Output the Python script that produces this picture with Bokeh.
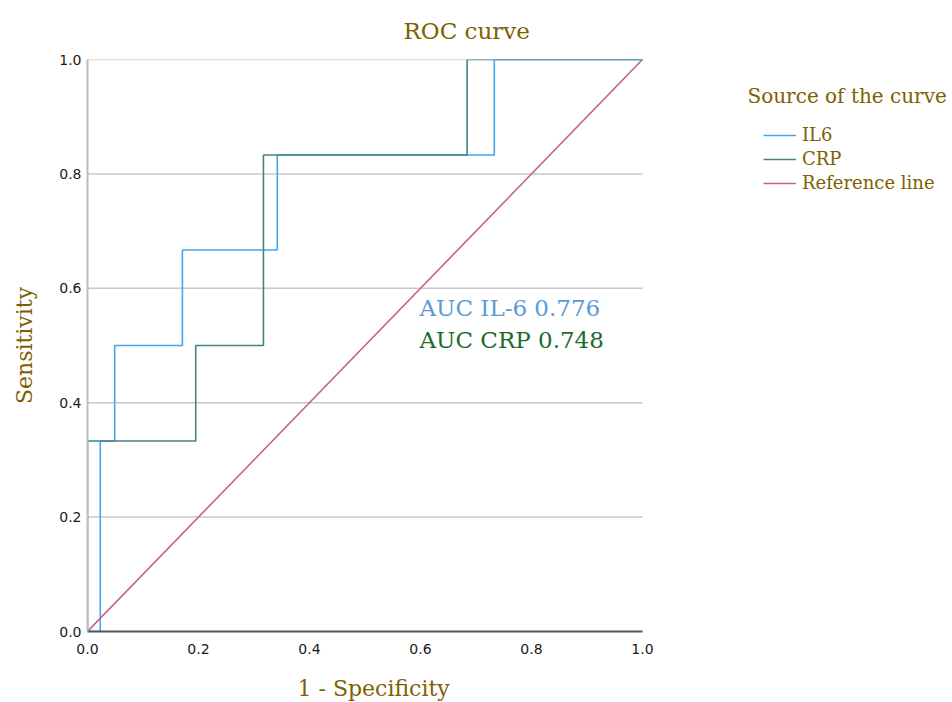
from bokeh.plotting import figure
from bokeh.models import Range1d, FixedTicker, Label, Legend, LegendItem, PrintfTickFormatter, Title
from bokeh.embed import file_html
from bokeh.resources import INLINE

# ROC curve coordinates (1 - specificity, sensitivity)
il6_fpr = [0.0, 0.023, 0.023, 0.049, 0.049, 0.171, 0.171, 0.342, 0.342, 0.733, 0.733, 1.0]
il6_tpr = [0.0, 0.0, 0.333, 0.333, 0.5, 0.5, 0.667, 0.667, 0.833, 0.833, 1.0, 1.0]
crp_fpr = [0.0, 0.0, 0.195, 0.195, 0.317, 0.317, 0.684, 0.684, 1.0]
crp_tpr = [0.0, 0.333, 0.333, 0.5, 0.5, 0.833, 0.833, 1.0, 1.0]
ref_x = [0.0, 1.0]
ref_y = [0.0, 1.0]
series_names = ["IL6", "CRP", "Reference line"]
tick_values = [0.0, 0.2, 0.4, 0.6, 0.8, 1.0]
auc_texts = ["AUC IL-6 0.776", "AUC CRP 0.748"]
auc_pos_x = [0.598, 0.598]
auc_pos_y = [0.565, 0.510]

BROWN = "#7F6000"
SERIF = "DejaVu Serif"
C_IL6 = "#45A5EA"
C_CRP = "#3E8787"
C_REF = "#C8608F"

# frame extends to the right to host the legend; x = 1.0 lands at 555 px
p = figure(frame_width=863, frame_height=572,
           min_border_left=87, min_border_right=0,
           min_border_top=59, min_border_bottom=71,
           x_range=Range1d(0, 863 / 555), y_range=Range1d(0, 1),
           output_backend="svg", toolbar_location=None,
           title="ROC curve")
p.background_fill_color = "white"
p.border_fill_color = "white"
p.outline_line_color = None

p.title.text_font = SERIF
p.title.text_font_size = "23px"
p.title.text_font_style = "normal"
p.title.text_color = BROWN
p.title.align = "left"
p.title.offset = 316
p.title.standoff = 31
p.title.text_line_height = 1.0

for ax in (p.xaxis[0], p.yaxis[0]):
    ax.ticker = FixedTicker(ticks=tick_values)
    ax.formatter = PrintfTickFormatter(format="%.1f")
    ax.major_tick_line_color = None
    ax.minor_tick_line_color = None
    ax.major_label_text_font = "DejaVu Sans"
    ax.major_label_text_font_size = "14px"
    ax.major_label_text_color = "#1A1A1A"
    ax.axis_label_text_font = SERIF
    ax.axis_label_text_font_size = "22px"
    ax.axis_label_text_font_style = "normal"
    ax.axis_label_text_color = BROWN

p.xaxis.bounds = (0, 1)
p.yaxis.bounds = (0, 1)
p.yaxis.axis_label = "Sensitivity"
p.xaxis.axis_line_color = "#555555"
p.xaxis.axis_line_width = 2
p.yaxis.axis_line_color = "#BDBDBD"
p.yaxis.axis_line_width = 2
p.xaxis.major_label_standoff = 6
p.yaxis.major_label_standoff = 0
p.yaxis.axis_label_standoff = 19

# x-axis caption, left-aligned under the 0..1 span
xcap = Title(text="1 - Specificity", align="left", offset=210, standoff=34,
             text_font=SERIF, text_font_size="22px", text_font_style="normal",
             text_color=BROWN, text_line_height=0.6)
p.add_layout(xcap, "below")

p.xgrid.grid_line_color = None
p.ygrid.grid_line_color = None
grid_y = tick_values[1:]
p.segment(x0=[0.0] * len(grid_y), y0=grid_y, x1=[1.0] * len(grid_y), y1=grid_y,
          line_color="#C8C8C8", line_width=1.5)

r_il6 = p.line(il6_fpr, il6_tpr, line_color=C_IL6, line_width=1.6)
r_crp = p.line(crp_fpr, crp_tpr, line_color=C_CRP, line_width=1.6)
r_ref = p.line(ref_x, ref_y, line_color=C_REF, line_width=1.6)

legend = Legend(items=[LegendItem(label=series_names[0], renderers=[r_il6]),
                       LegendItem(label=series_names[1], renderers=[r_crp]),
                       LegendItem(label=series_names[2], renderers=[r_ref])],
                location=(676, 438))
legend.padding = 0
legend.margin = 0
legend.spacing = 3
legend.glyph_width = 33
legend.glyph_height = 20
legend.label_height = 20
legend.label_standoff = 6
legend.label_text_font = SERIF
legend.label_text_font_size = "18px"
legend.label_text_color = BROWN
legend.background_fill_alpha = 0
legend.border_line_alpha = 0
p.add_layout(legend, "center")

p.add_layout(Label(x=660, y=536, x_units="screen", y_units="screen",
                   text="Source of the curve", text_font=SERIF,
                   text_font_size="20px", text_color=BROWN,
                   text_baseline="middle", text_align="left"))

auc_colors = ["#5B9BD5", "#1E6B2A"]
for t, xx, yy, c in zip(auc_texts, auc_pos_x, auc_pos_y, auc_colors):
    p.add_layout(Label(x=xx, y=yy, text=t, text_font=SERIF,
                       text_font_size="23px", text_color=c,
                       text_baseline="alphabetic", text_align="left"))

open("out.html", "w").write(file_html(p, INLINE))
